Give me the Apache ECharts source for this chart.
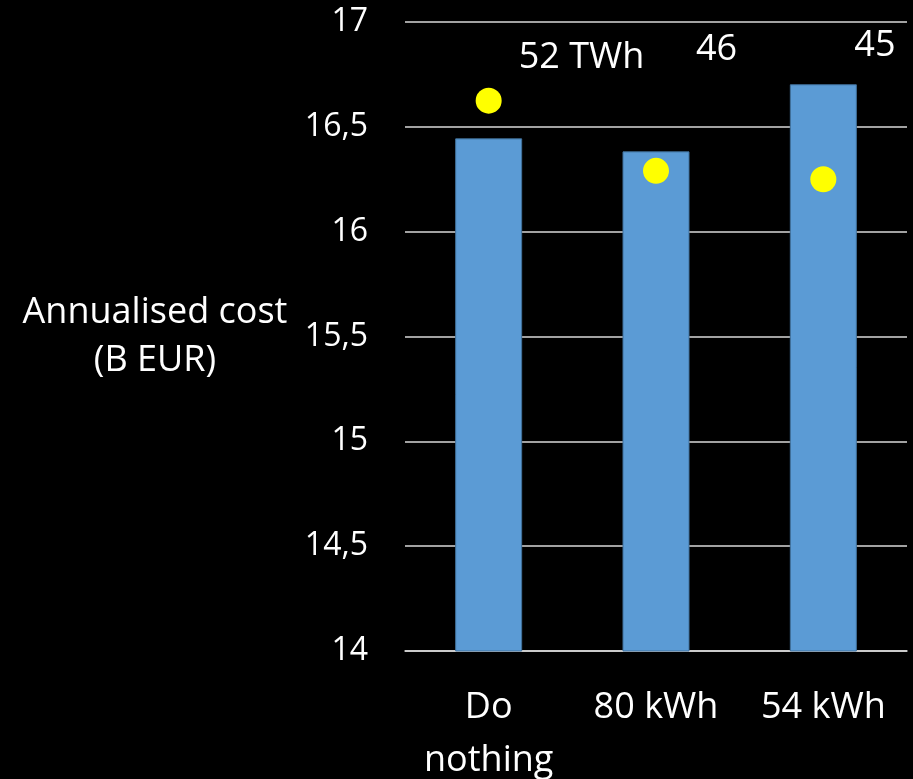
<!DOCTYPE html>
<html>
<head>
<meta charset="utf-8">
<script src="https://cdn.jsdelivr.net/npm/echarts@6/dist/echarts.min.js"></script>
<style>
html,body{margin:0;padding:0;background:#000;}
#chart{width:913px;height:779px;}
</style>
</head>
<body>
<div id="chart"></div>
<script>
var categories = ['Do\nnothing', '80 kWh', '54 kWh'];
var costValues = [16.445, 16.383, 16.703];
var energyValues = [52.5, 45.8, 45.0];
var energyLabels = ['52 TWh', '46', '45'];
var labelOffsets = [[30, -43], [40, -121], [31, -134]];

var FONT = 'Open Sans';
var chart = echarts.init(document.getElementById('chart'));
chart.setOption({
  backgroundColor: '#000000',
  animation: false,
  grid: {left: 405, right: 6, top: 22, bottom: 128, containLabel: false, outerBoundsMode: 'none'},
  xAxis: {
    type: 'category',
    data: categories,
    axisLine: {show: true, lineStyle: {color: '#d9d9d9', width: 1.5}},
    axisTick: {show: false},
    axisLabel: {color: '#ffffff', fontFamily: FONT, fontSize: 36, lineHeight: 53, margin: 30, interval: 0}
  },
  yAxis: [{
    type: 'value',
    min: 14, max: 17, interval: 0.5,
    name: 'Annualised cost\n(B EUR)',
    nameLocation: 'middle',
    nameRotate: 0,
    nameGap: 250,
    nameTextStyle: {color: '#ffffff', fontFamily: FONT, fontSize: 36, lineHeight: 48, align: 'center', verticalAlign: 'middle'},
    axisLine: {show: false},
    axisTick: {show: false},
    axisLabel: {color: '#ffffff', fontFamily: FONT, fontSize: 32, margin: 37,
      formatter: function (v) { return String(v).replace('.', ','); }},
    splitLine: {show: true, lineStyle: {color: '#d9d9d9', width: 1.5}}
  }, {
    type: 'value',
    min: 0, max: 60,
    show: false,
    splitLine: {show: false}
  }],
  series: [{
    type: 'bar',
    data: costValues,
    barWidth: 67,
    itemStyle: {color: '#5B9BD5', borderColor: '#41719C', borderWidth: 1}
  }, {
    type: 'scatter',
    yAxisIndex: 1,
    symbol: 'circle',
    symbolSize: 26,
    itemStyle: {color: '#FFFF00', opacity: 1},
    data: energyValues.map(function (v, i) {
      return {
        value: v,
        label: {
          show: true,
          position: 'inside',
          align: 'left',
          verticalAlign: 'middle',
          offset: labelOffsets[i],
          formatter: energyLabels[i],
          color: '#ffffff',
          opacity: 1,
          fontFamily: FONT,
          fontSize: 36
        }
      };
    })
  }]
});
</script>
</body>
</html>
